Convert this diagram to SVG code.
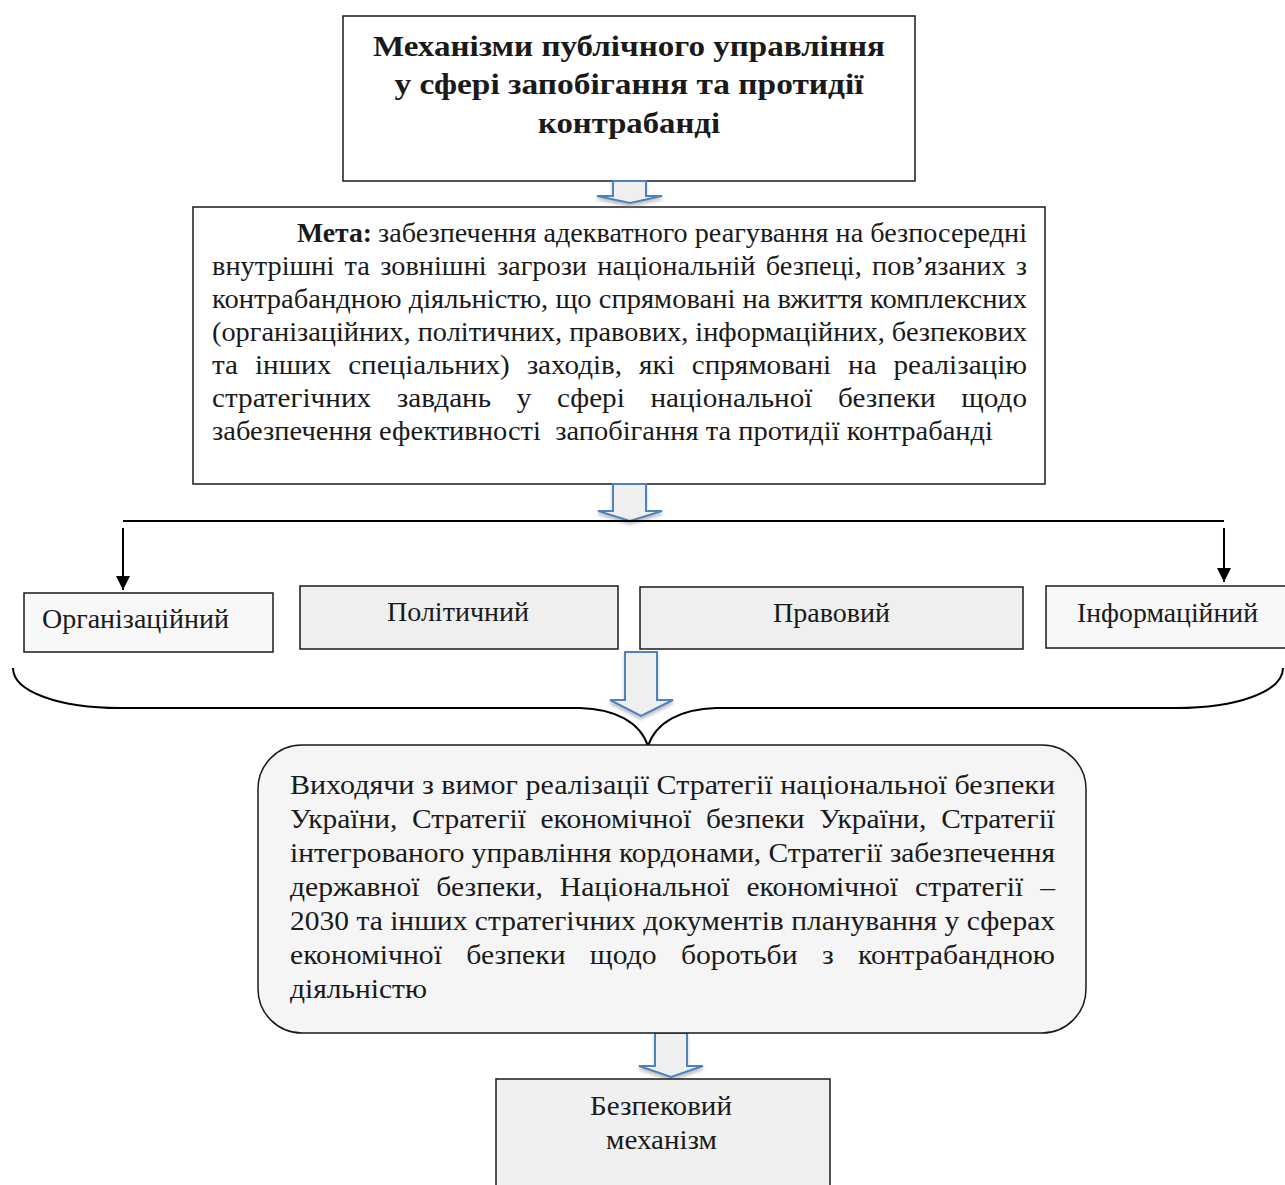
<svg xmlns="http://www.w3.org/2000/svg" width="1285" height="1185" viewBox="0 0 1285 1185">
<defs>
<style>
.box{stroke:#1a1a1a;stroke-width:1.5}
.t{font-family:"Liberation Serif","Times New Roman",serif;fill:#1a1a1a}
.title{font-size:29px;font-weight:bold;text-anchor:middle}
.m{font-size:27px}
.r{font-size:28px}
.lbl{font-size:27px}
.blk{fill:#efefef;stroke:#4f81bd;stroke-width:2;filter:url(#sh)}
.ln{stroke:#000;stroke-width:2;fill:none}
</style>
<filter id="sh" x="-30%" y="-30%" width="160%" height="180%">
<feDropShadow dx="0" dy="3" stdDeviation="1.5" flood-color="#888" flood-opacity="0.5"/>
</filter>
<marker id="ah" markerWidth="14" markerHeight="14" refX="14" refY="7" orient="auto" markerUnits="userSpaceOnUse" viewBox="0 0 14 14">
<path d="M0,0 L14,7 L0,14 Z" fill="#000"/>
</marker>
</defs>
<rect width="1285" height="1185" fill="#fff"/>

<g id="title">
<rect class="box" x="343" y="16" width="572" height="165" fill="#fff"/>
<text class="t title" x="629" y="56" textLength="512" lengthAdjust="spacingAndGlyphs">Механізми публічного управління</text>
<text class="t title" x="629" y="94" textLength="469" lengthAdjust="spacingAndGlyphs">у сфері запобігання та протидії</text>
<text class="t title" x="629" y="133" textLength="182" lengthAdjust="spacingAndGlyphs">контрабанді</text>
</g>

<g id="goal">
<rect class="box" x="193" y="207" width="852" height="277" fill="#fff"/>
<text class="t m" x="297" y="242" font-weight="bold" textLength="75" lengthAdjust="spacingAndGlyphs">Мета:</text>
<text class="t m" x="378" y="242" textLength="649" lengthAdjust="spacingAndGlyphs">забезпечення адекватного реагування на безпосередні</text>
<text class="t m" x="212" y="275" textLength="815" lengthAdjust="spacingAndGlyphs" word-spacing="3">внутрішні та зовнішні загрози національній безпеці, пов’язаних з</text>
<text class="t m" x="212" y="308" textLength="815" lengthAdjust="spacingAndGlyphs">контрабандною діяльністю, що спрямовані на вжиття комплексних</text>
<text class="t m" x="212" y="341" textLength="815" lengthAdjust="spacingAndGlyphs">(організаційних, політичних, правових, інформаційних, безпекових</text>
<text class="t m" x="212" y="374" textLength="815" lengthAdjust="spacingAndGlyphs" word-spacing="9">та інших спеціальних) заходів, які спрямовані на реалізацію</text>
<text class="t m" x="212" y="407" textLength="815" lengthAdjust="spacingAndGlyphs" word-spacing="17">стратегічних завдань у сфері національної безпеки щодо</text>
<text class="t m" x="212" y="440" textLength="781" lengthAdjust="spacingAndGlyphs" xml:space="preserve">забезпечення ефективності  запобігання та протидії контрабанді</text>
</g>

<g id="connectors">
<path class="blk" d="M613,181 L646,181 L646,196 L662,196 L630,203 L597,196 L613,196 Z"/>
<path class="blk" d="M613,484 L646,484 L646,511 L662,511 L630,521 L598,511 L613,511 Z"/>
<line class="ln" x1="123" y1="521" x2="1224" y2="521"/>
<line class="ln" x1="123" y1="528" x2="123" y2="590" marker-end="url(#ah)"/>
<line class="ln" x1="1224" y1="528" x2="1224" y2="582" marker-end="url(#ah)"/>
<path class="blk" d="M625,652 L657,652 L657,700 L673,700 L641,716 L610,700 L625,700 Z"/>
<path class="ln" d="M13,668 C13,692 60,708 120,708 L580,708 C615,709 640,722 648,746 C656,722 681,709 716,708 L1176,708 C1236,708 1283,692 1283,668"/>
<path class="blk" d="M655,1033 L687,1033 L687,1066 L703,1066 L671,1077 L639,1066 L655,1066 Z"/>
</g>

<g id="org">
<rect class="box" x="24" y="593" width="249" height="59" fill="#f8f8f8"/>
<text class="t lbl" x="42" y="628" textLength="187" lengthAdjust="spacingAndGlyphs">Організаційний</text>
</g>
<g id="pol">
<rect class="box" x="300" y="586" width="318" height="63" fill="#efefef"/>
<text class="t lbl" x="387" y="621" textLength="142" lengthAdjust="spacingAndGlyphs">Політичний</text>
</g>
<g id="prav">
<rect class="box" x="640" y="587" width="383" height="62" fill="#efefef"/>
<text class="t lbl" x="773" y="622" textLength="117" lengthAdjust="spacingAndGlyphs">Правовий</text>
</g>
<g id="inf">
<rect class="box" x="1046" y="586" width="245" height="62" fill="#f8f8f8"/>
<text class="t lbl" x="1077" y="622" textLength="181" lengthAdjust="spacingAndGlyphs">Інформаційний</text>
</g>

<g id="strategy">
<rect class="box" x="258" y="745" width="828" height="288" rx="44" ry="44" fill="#f5f5f5"/>
<text class="t r" x="290" y="794" textLength="765" lengthAdjust="spacingAndGlyphs">Виходячи з вимог реалізації Стратегії національної безпеки</text>
<text class="t r" x="290" y="828" textLength="765" lengthAdjust="spacingAndGlyphs" word-spacing="7">України, Стратегії економічної безпеки України, Стратегії</text>
<text class="t r" x="290" y="862" textLength="765" lengthAdjust="spacingAndGlyphs">інтегрованого управління кордонами, Стратегії забезпечення</text>
<text class="t r" x="290" y="896" textLength="765" lengthAdjust="spacingAndGlyphs" word-spacing="9">державної безпеки, Національної економічної стратегії –</text>
<text class="t r" x="290" y="930" textLength="765" lengthAdjust="spacingAndGlyphs">2030 та інших стратегічних документів планування у сферах</text>
<text class="t r" x="290" y="964" textLength="765" lengthAdjust="spacingAndGlyphs" word-spacing="16">економічної безпеки щодо боротьби з контрабандною</text>
<text class="t r" x="290" y="998" textLength="137" lengthAdjust="spacingAndGlyphs">діяльністю</text>
</g>

<g id="security">
<rect class="box" x="496" y="1079" width="334" height="120" fill="#f0f0f0"/>
<text class="t lbl" x="590" y="1115" textLength="142" lengthAdjust="spacingAndGlyphs">Безпековий</text>
<text class="t lbl" x="606" y="1149" textLength="111" lengthAdjust="spacingAndGlyphs">механізм</text>
</g>
</svg>
